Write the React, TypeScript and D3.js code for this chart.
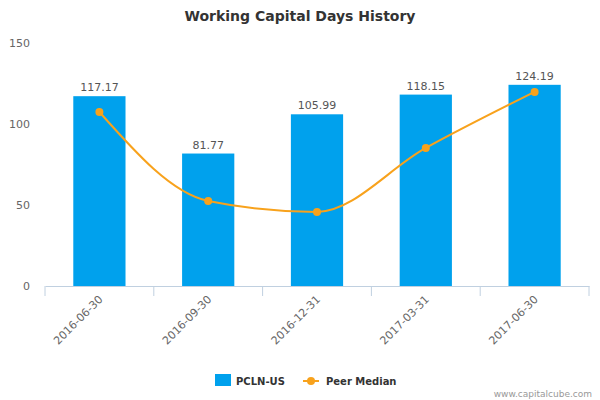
import { useEffect, useRef } from 'react';
import * as d3 from 'd3';

const categories = ['2016-06-30', '2016-09-30', '2016-12-31', '2017-03-31', '2017-06-30'];
const companyValues = [117.17, 81.77, 105.99, 118.15, 124.19];
const peerMedian = [107.4, 52.5, 45.7, 85.2, 119.8];
const yTicks = [0, 50, 100, 150];

const barColor = '#00a1ed';
const lineColor = '#f8a21c';
const font = '"DejaVu Sans", Verdana, sans-serif';

export default function App() {
  const ref = useRef<SVGSVGElement>(null);

  useEffect(() => {
    const svg = d3.select(ref.current);
    svg.selectAll('*').remove();

    const left = 45;
    const right = 589;
    const bottom = 286;
    const top = 43;

    const x = d3.scaleBand().domain(categories).range([left, right]).paddingInner(0).paddingOuter(0);
    const y = d3.scaleLinear().domain([0, 150]).range([bottom, top]);
    const barWidth = x.bandwidth() * 0.48;

    svg
      .append('text')
      .attr('x', 300)
      .attr('y', 21)
      .attr('text-anchor', 'middle')
      .style('font-family', font)
      .style('font-size', '14px')
      .style('font-weight', 'bold')
      .style('fill', '#333')
      .text('Working Capital Days History');

    // y labels
    svg
      .selectAll('.ylab')
      .data(yTicks)
      .enter()
      .append('text')
      .attr('x', 30)
      .attr('y', d => y(d) + 4)
      .attr('text-anchor', 'end')
      .style('font-family', font)
      .style('font-size', '11px')
      .style('fill', '#666')
      .text(d => d);

    // bars
    svg
      .selectAll('.bar')
      .data(companyValues)
      .enter()
      .append('rect')
      .attr('x', (d, i) => x(categories[i])! + (x.bandwidth() - barWidth) / 2)
      .attr('y', d => y(d))
      .attr('width', barWidth)
      .attr('height', d => bottom - y(d))
      .attr('fill', barColor);

    svg
      .selectAll('.barlab')
      .data(companyValues)
      .enter()
      .append('text')
      .attr('x', (d, i) => x(categories[i])! + x.bandwidth() / 2)
      .attr('y', d => y(d) - 5)
      .attr('text-anchor', 'middle')
      .style('font-family', font)
      .style('font-size', '11px')
      .style('fill', '#555')
      .text(d => d.toFixed(2));

    // x axis
    const xAxis = d3.axisBottom(x).tickSize(0).tickFormat(() => '');
    const axisG = svg.append('g').attr('transform', `translate(0,${bottom})`).call(xAxis);
    axisG.select('.domain').attr('stroke', '#c0d0e0');
    const edges = [...categories.map(c => x(c)!), right];
    axisG
      .selectAll('.edge')
      .data(edges)
      .enter()
      .append('line')
      .attr('x1', d => d)
      .attr('x2', d => d)
      .attr('y1', 0)
      .attr('y2', 10)
      .attr('stroke', '#c0d0e0');

    svg
      .selectAll('.xlab')
      .data(categories)
      .enter()
      .append('text')
      .attr('transform', d => `translate(${x(d)! + x.bandwidth() / 2 + 4},${bottom + 14}) rotate(-45)`)
      .attr('text-anchor', 'end')
      .style('font-family', font)
      .style('font-size', '11px')
      .style('fill', '#666')
      .text(d => d);

    // peer median line
    const line = d3
      .line<number>()
      .x((d, i) => x(categories[i])! + x.bandwidth() / 2)
      .y(d => y(d))
      .curve(d3.curveMonotoneX);

    svg
      .append('path')
      .attr('d', line(peerMedian))
      .attr('fill', 'none')
      .attr('stroke', lineColor)
      .attr('stroke-width', 2);

    svg
      .selectAll('.pt')
      .data(peerMedian)
      .enter()
      .append('circle')
      .attr('cx', (d, i) => x(categories[i])! + x.bandwidth() / 2)
      .attr('cy', d => y(d))
      .attr('r', 4)
      .attr('fill', lineColor);

    // legend
    const legend = svg.append('g');
    legend.append('rect').attr('x', 215).attr('y', 374).attr('width', 16).attr('height', 12).attr('fill', barColor);
    legend
      .append('text')
      .attr('x', 236)
      .attr('y', 385)
      .style('font-family', font)
      .style('font-size', '10px')
      .style('font-weight', 'bold')
      .style('fill', '#333')
      .text('PCLN-US');
    legend
      .append('line')
      .attr('x1', 303)
      .attr('x2', 319)
      .attr('y1', 381)
      .attr('y2', 381)
      .attr('stroke', lineColor)
      .attr('stroke-width', 2);
    legend.append('circle').attr('cx', 311).attr('cy', 381).attr('r', 4).attr('fill', lineColor);
    legend
      .append('text')
      .attr('x', 326)
      .attr('y', 385)
      .style('font-family', font)
      .style('font-size', '10px')
      .style('font-weight', 'bold')
      .style('fill', '#333')
      .text('Peer Median');

    svg
      .append('text')
      .attr('x', 592)
      .attr('y', 397)
      .attr('text-anchor', 'end')
      .style('font-family', font)
      .style('font-size', '9px')
      .style('fill', '#999')
      .text('www.capitalcube.com');
  }, []);

  return (
    <svg
      ref={ref}
      width={600}
      height={400}
      style={{ position: 'absolute', left: 0, top: 0, background: '#fff' }}
    />
  );
}
